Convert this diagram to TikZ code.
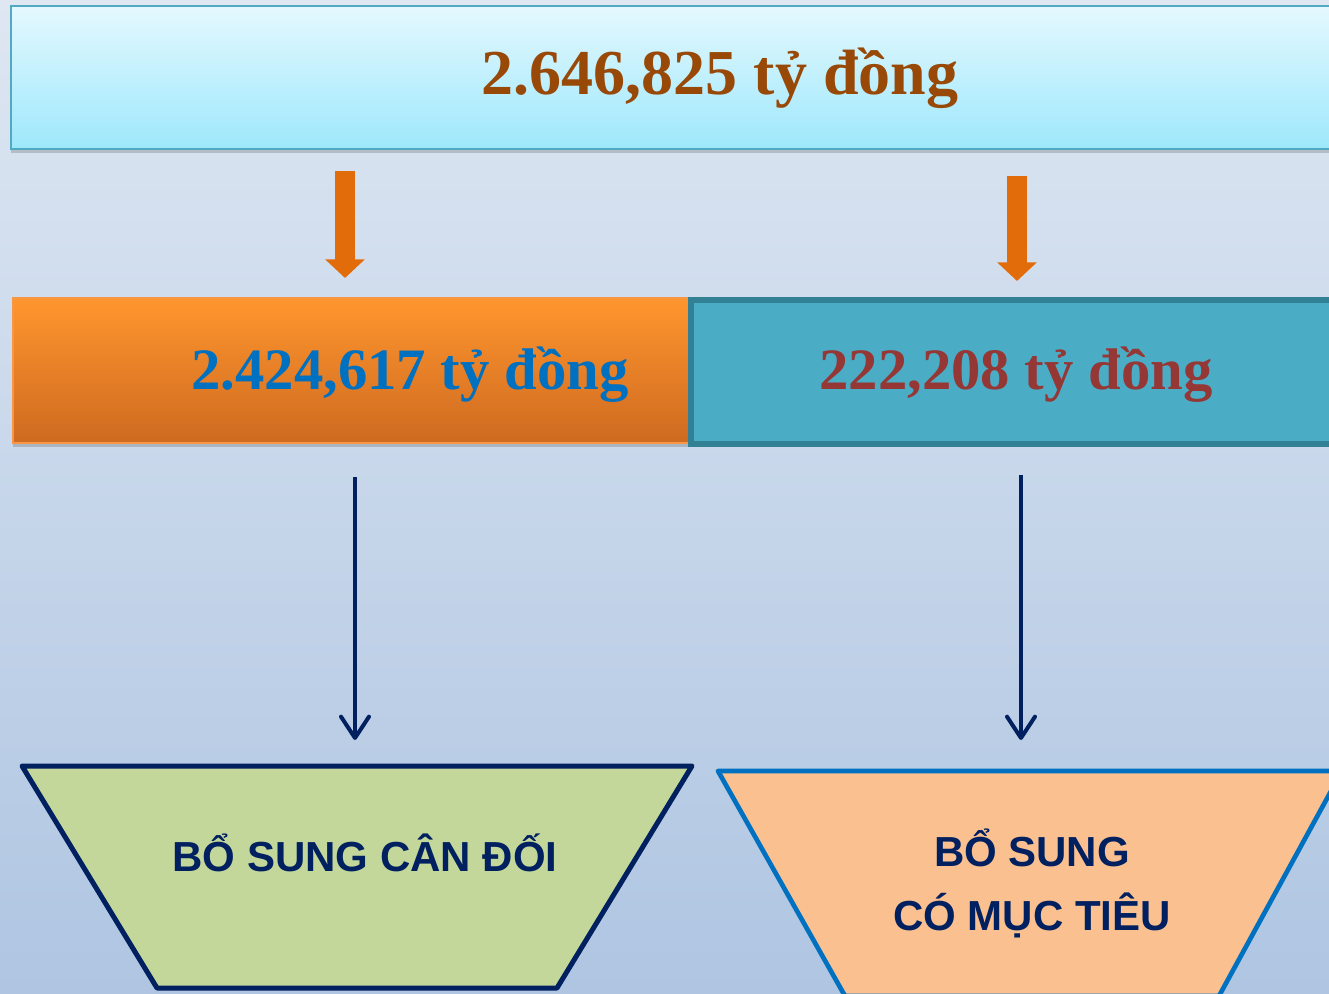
\documentclass[tikz,border=0pt]{standalone}
\usepackage{fontspec}
\setmainfont{Liberation Serif}
\newfontfamily\capsfont{Liberation Sans}
\usetikzlibrary{arrows.meta,shadows}

\definecolor{bgtop}{RGB}{222,231,242}
\definecolor{bgbot}{RGB}{175,197,226}
\definecolor{topfillA}{RGB}{228,248,254}
\definecolor{topfillB}{RGB}{158,232,252}
\definecolor{topline}{RGB}{80,170,196}
\definecolor{sumbrown}{RGB}{152,72,7}
\definecolor{orangeA}{RGB}{255,150,46}
\definecolor{orangeB}{RGB}{206,106,32}
\definecolor{orangeline}{RGB}{247,150,70}
\definecolor{tealfill}{RGB}{75,172,198}
\definecolor{tealline}{RGB}{49,128,148}
\definecolor{numblue}{RGB}{0,112,192}
\definecolor{numred}{RGB}{149,55,53}
\definecolor{arroworange}{RGB}{227,108,10}
\definecolor{navy}{RGB}{0,32,96}
\definecolor{greenfill}{RGB}{196,215,155}
\definecolor{peachfill}{RGB}{250,192,144}
\definecolor{blueline}{RGB}{0,112,192}

\tikzset{
  numtext/.style={anchor=base, inner sep=0pt},
  capstext/.style={anchor=base, inner sep=0pt, align=center, text=navy, font=\capsfont\bfseries\fontsize{31.5}{48}\selectfont},
  blockarrow/.style={arroworange, line width=14.5pt, -{Triangle[width=29pt,length=14pt]}},
  thinarrow/.style={navy, line width=3pt, -{Straight Barb[length=16pt,width=21pt,round]}},
  boxshadow/.style={drop shadow={shadow xshift=0pt, shadow yshift=-3pt, opacity=.3, fill=black!60}}
}

\begin{document}
\begin{tikzpicture}[x=0.75pt,y=0.75pt,yscale=-1,xscale=1]
\useasboundingbox (0,0) rectangle (1329,994);
\clip (0,0) rectangle (1329,994);

%Background
\fill[top color=bgtop, bottom color=bgbot] (0,0) rectangle (1329,994);

%Flowchart: Process
\node[draw=topline, line width=1.5pt, top color=topfillA, bottom color=topfillB, minimum width=1064.25pt, minimum height=107.25pt, inner sep=0pt, boxshadow] (total) at (720.5,77.5) {};
%Flowchart: Process
\node[draw=orangeline, line width=1.5pt, top color=orangeA, bottom color=orangeB, minimum width=507.75pt, minimum height=108.75pt, inner sep=0pt, boxshadow] (part) at (351.5,370.5) {};
%Flowchart: Process
\node[draw=tealline, line width=4.5pt, fill=tealfill, minimum width=490.5pt, minimum height=108pt, inner sep=0pt] (target) at (1018,372) {};

%Trapezoids
\draw[navy, line width=3.75pt, fill=greenfill, line join=round] (22,766) -- (692,766) -- (557,988) -- (157,988) -- cycle;
\draw[blueline, line width=3.5pt, fill=peachfill, line join=round] (718,771) -- (1342,771) -- (1219,996) -- (845,996) -- cycle;
\coordinate (balance) at (355,766);
\coordinate (targeted) at (1021,771);

%Straight Lines
\coordinate (leftx) at (345,298);
\coordinate (rightx) at (1017,300);
\draw[blockarrow, shorten <=15.75pt, shorten >=14.25pt] (total.south -| leftx) -- (part.north -| leftx);
\draw[blockarrow, shorten <=19.5pt, shorten >=12pt] (total.south -| rightx) -- (target.north -| rightx);
\draw[thinarrow, shorten <=24.75pt, shorten >=19.5pt] (part.south -| balance) -- (balance);
\draw[thinarrow, shorten <=21pt, shorten >=23.25pt] (target.south -| targeted) -- (targeted);

% Text Node
\node[numtext, text=sumbrown, font=\bfseries\fontsize{48}{56}\selectfont] (totaltext) at (720,95) {2.646,825 tỷ đồng};
% Text Node
\node[numtext, text=numblue, font=\bfseries\fontsize{44}{52}\selectfont] (parttext) at (410,390) {2.424,617 tỷ đồng};
% Text Node
\node[numtext, text=numred, font=\bfseries\fontsize{44}{52}\selectfont] (targettext) at (1016,390) {222,208 tỷ đồng};
% Text Node
\node[capstext] (balancetext) at (365,871) {BỔ SUNG CÂN ĐỐI};
% Text Node
\node[capstext] (targetedtext) at (1032,930) {BỔ SUNG\\CÓ MỤC TIÊU};

\end{tikzpicture}
\end{document}
